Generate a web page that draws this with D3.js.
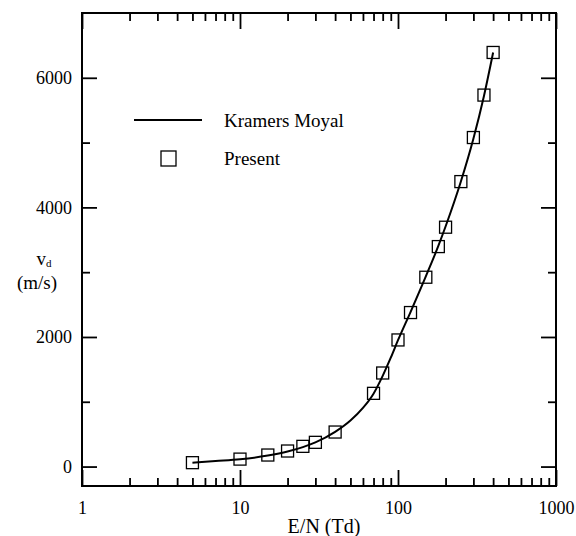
<!DOCTYPE html>
<html>
<head>
<meta charset="utf-8">
<script src="https://cdn.jsdelivr.net/npm/d3@7"></script>
<style>
  body { margin: 0; background: #fff; }
  svg text { font-family: "Liberation Serif", "Times New Roman", serif !important; fill: #000; }
</style>
</head>
<body>
<div id="chart"></div>
<script>
// Chart size
const width = 576;
const height = 536;
const margin = { top: 13, right: 20, bottom: 50, left: 82 };
const serif = "Liberation Serif, Times New Roman, serif";

// Present results (squares)
const presentEN = [5, 10, 15, 20, 25, 30, 40, 70, 80, 100, 120, 150, 180, 200, 250, 300, 350, 400];
const presentVd = [60, 115, 178, 240, 312, 374, 533, 1130, 1444, 1954, 2377, 2922, 3395, 3694, 4398, 5078, 5733, 6391];

// Kramers Moyal curve
const kmEN = [5, 7, 10, 15, 20, 25, 30, 40, 50, 60, 70, 80, 90, 100, 120, 150, 180, 200, 250, 300, 350, 400];
const kmVd = [60, 85, 112, 170, 232, 300, 372, 535, 710, 905, 1125, 1400, 1680, 1950, 2385, 2935, 3405, 3705, 4400, 5060, 5720, 6390];

// Axis ticks
const xMajor = [1, 10, 100, 1000];
const yMajor = [0, 2000, 4000, 6000];
const yMinor = [1000, 3000, 5000];

const x = d3.scaleLog()
  .domain([1, 1000])
  .range([margin.left, width - margin.right]);

const y = d3.scaleLinear()
  .domain([-300, 7000])
  .range([height - margin.bottom, margin.top]);

const svg = d3.select("#chart")
  .append("svg")
  .attr("width", width)
  .attr("height", height)
  .attr("font-family", serif);

const xMinor = x.ticks().filter(d => !xMajor.includes(d));
const tidy = g => {
  g.select(".domain").remove();
  g.attr("font-family", serif);
};

// Bottom axis
svg.append("g")
  .attr("transform", `translate(0,${height - margin.bottom})`)
  .call(d3.axisBottom(x).tickValues(xMajor).tickSize(-16).tickPadding(15).tickFormat(d3.format("d")))
  .call(tidy)
  .call(g => g.selectAll("text").attr("font-size", 18));
svg.append("g")
  .attr("transform", `translate(0,${height - margin.bottom})`)
  .call(d3.axisBottom(x).tickValues(xMinor).tickSize(-8).tickFormat(""))
  .call(tidy);

// Top axis
svg.append("g")
  .attr("transform", `translate(0,${margin.top})`)
  .call(d3.axisTop(x).tickValues(xMajor).tickSize(-16).tickFormat(""))
  .call(tidy);
svg.append("g")
  .attr("transform", `translate(0,${margin.top})`)
  .call(d3.axisTop(x).tickValues(xMinor).tickSize(-8).tickFormat(""))
  .call(tidy);

// Left axis
svg.append("g")
  .attr("transform", `translate(${margin.left},0)`)
  .call(d3.axisLeft(y).tickValues(yMajor).tickSize(-15).tickPadding(10).tickFormat(d3.format("d")))
  .call(tidy)
  .call(g => g.selectAll("text").attr("font-size", 18));
svg.append("g")
  .attr("transform", `translate(${margin.left},0)`)
  .call(d3.axisLeft(y).tickValues(yMinor).tickSize(-8).tickFormat(""))
  .call(tidy);

// Right axis
svg.append("g")
  .attr("transform", `translate(${width - margin.right},0)`)
  .call(d3.axisRight(y).tickValues(yMajor).tickSize(-15).tickFormat(""))
  .call(tidy);
svg.append("g")
  .attr("transform", `translate(${width - margin.right},0)`)
  .call(d3.axisRight(y).tickValues(yMinor).tickSize(-8).tickFormat(""))
  .call(tidy);

svg.selectAll(".tick line").attr("stroke", "#000").attr("stroke-width", 1.8);

// Frame
svg.append("rect")
  .attr("x", margin.left)
  .attr("y", margin.top)
  .attr("width", width - margin.left - margin.right)
  .attr("height", height - margin.top - margin.bottom)
  .attr("fill", "none")
  .attr("stroke", "#000")
  .attr("stroke-width", 2);

// Curve
const line = d3.line()
  .x(d => x(d[0]))
  .y(d => y(d[1]))
  .curve(d3.curveMonotoneX);

svg.append("path")
  .datum(kmEN.map((d, i) => [d, kmVd[i]]))
  .attr("d", line)
  .attr("fill", "none")
  .attr("stroke", "#000")
  .attr("stroke-width", 2);

// Squares
const sq = 12;
svg.append("g")
  .selectAll("rect")
  .data(presentEN.map((d, i) => [d, presentVd[i]]))
  .join("rect")
  .attr("x", d => x(d[0]) - sq / 2)
  .attr("y", d => y(d[1]) - sq / 2)
  .attr("width", sq)
  .attr("height", sq)
  .attr("fill", "none")
  .attr("stroke", "#000")
  .attr("stroke-width", 1.3);

// Legend
const legend = svg.append("g");
legend.append("line")
  .attr("x1", 134).attr("x2", 202)
  .attr("y1", 120).attr("y2", 120)
  .attr("stroke", "#000").attr("stroke-width", 2);
legend.append("text")
  .attr("x", 224).attr("y", 120).attr("dy", "0.35em")
  .attr("font-size", 19)
  .text("Kramers Moyal");
legend.append("rect")
  .attr("x", 161).attr("y", 151)
  .attr("width", 15).attr("height", 15)
  .attr("fill", "none").attr("stroke", "#000").attr("stroke-width", 1.3);
legend.append("text")
  .attr("x", 224).attr("y", 158).attr("dy", "0.35em")
  .attr("font-size", 19)
  .text("Present");

// Axis titles
svg.append("text")
  .attr("x", 324).attr("y", 533)
  .attr("text-anchor", "middle")
  .attr("font-size", 20)
  .text("E/N (Td)");

const yt = svg.append("text")
  .attr("x", 44).attr("y", 265)
  .attr("text-anchor", "middle")
  .attr("font-size", 19);
yt.append("tspan").text("v");
yt.append("tspan").attr("font-size", 11).attr("dy", 2).text("d");

svg.append("text")
  .attr("x", 37).attr("y", 289)
  .attr("text-anchor", "middle")
  .attr("font-size", 19)
  .text("(m/s)");
</script>
</body>
</html>
